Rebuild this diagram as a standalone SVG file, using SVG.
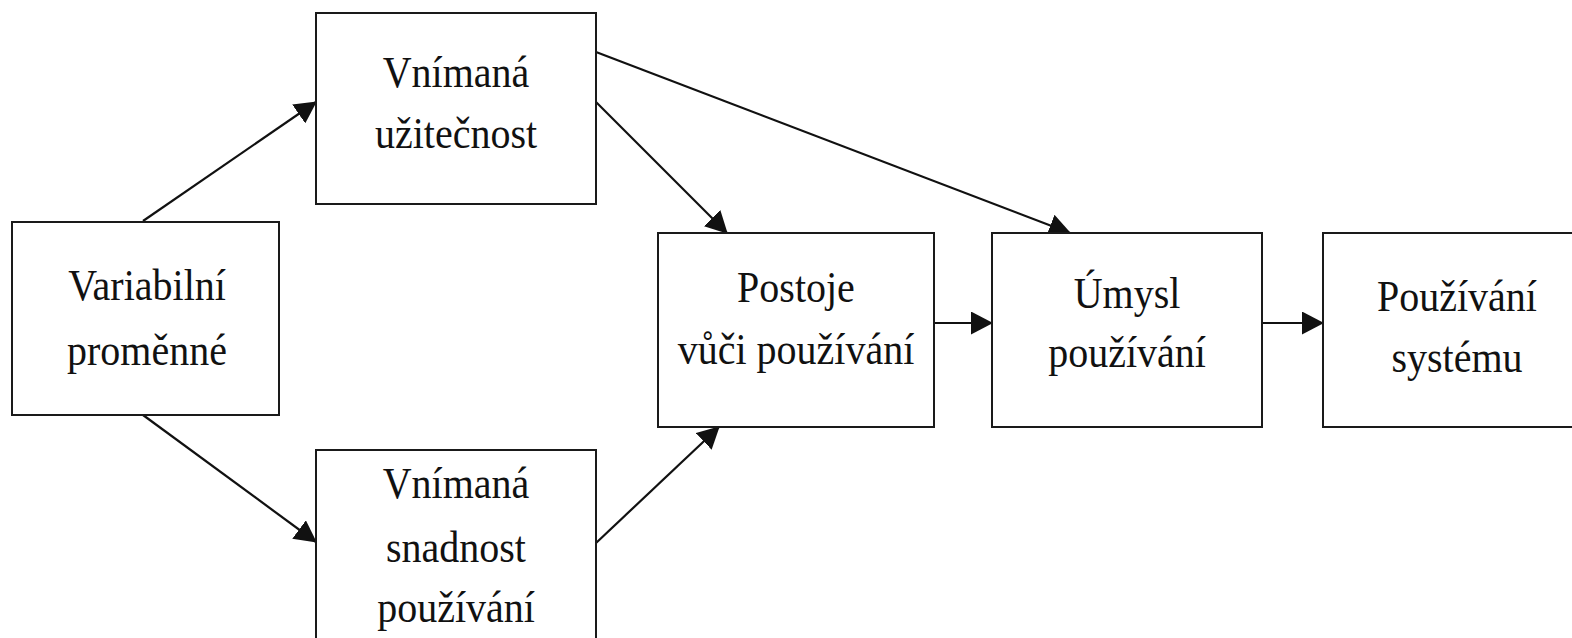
<svg xmlns="http://www.w3.org/2000/svg" width="1572" height="638" viewBox="0 0 1572 638">
<style>
.box{fill:#fff;stroke:#1a1a1a;stroke-width:2}
.lbl{font-family:"Liberation Serif","Times New Roman",serif;font-size:40px;fill:#111;text-anchor:middle}
.con{stroke:#111;stroke-width:2.2;fill:none;marker-end:url(#ah)}
</style>
<defs>
<marker id="ah" markerUnits="userSpaceOnUse" markerWidth="22" markerHeight="23" refX="21" refY="11.5" orient="auto">
<path d="M0,0 L22,11.5 L0,23 z" fill="#111"/>
</marker>
</defs>
<rect width="1572" height="638" fill="#fff"/>
<g id="connectors">
<line class="con" x1="143" y1="221" x2="316" y2="102"/>
<line class="con" x1="143" y1="415" x2="316" y2="542"/>
<line class="con" x1="596" y1="102" x2="727" y2="233"/>
<line class="con" x1="596" y1="52" x2="1070" y2="233"/>
<line class="con" x1="596" y1="543" x2="719" y2="427"/>
<line class="con" x1="934" y1="323" x2="992" y2="323"/>
<line class="con" x1="1262" y1="323" x2="1323" y2="323"/>
</g>
<g id="n-variabilni">
<rect class="box" x="12" y="222" width="267" height="193"/>
<text class="lbl" transform="translate(147,300) scale(1,1.12)">Variabilní</text>
<text class="lbl" transform="translate(147,365) scale(1,1.12)">proměnné</text>
</g>
<g id="n-uzitecnost">
<rect class="box" x="316" y="13" width="280" height="191"/>
<text class="lbl" transform="translate(456,87) scale(1,1.12)">Vnímaná</text>
<text class="lbl" transform="translate(456,148) scale(1,1.12)">užitečnost</text>
</g>
<g id="n-snadnost">
<rect class="box" x="316" y="450" width="280" height="200"/>
<text class="lbl" transform="translate(456,498) scale(1,1.12)">Vnímaná</text>
<text class="lbl" transform="translate(456,562) scale(1,1.12)">snadnost</text>
<text class="lbl" transform="translate(456,622) scale(1,1.12)">používání</text>
</g>
<g id="n-postoje">
<rect class="box" x="658" y="233" width="276" height="194"/>
<text class="lbl" transform="translate(796,302) scale(1,1.12)">Postoje</text>
<text class="lbl" transform="translate(796,364) scale(1,1.12)">vůči používání</text>
</g>
<g id="n-umysl">
<rect class="box" x="992" y="233" width="270" height="194"/>
<text class="lbl" transform="translate(1127,308) scale(1,1.12)">Úmysl</text>
<text class="lbl" transform="translate(1127,367) scale(1,1.12)">používání</text>
</g>
<g id="n-pouzivani">
<rect class="box" x="1323" y="233" width="268" height="194"/>
<text class="lbl" transform="translate(1457,311) scale(1,1.12)">Používání</text>
<text class="lbl" transform="translate(1457,372) scale(1,1.12)">systému</text>
</g>
</svg>
